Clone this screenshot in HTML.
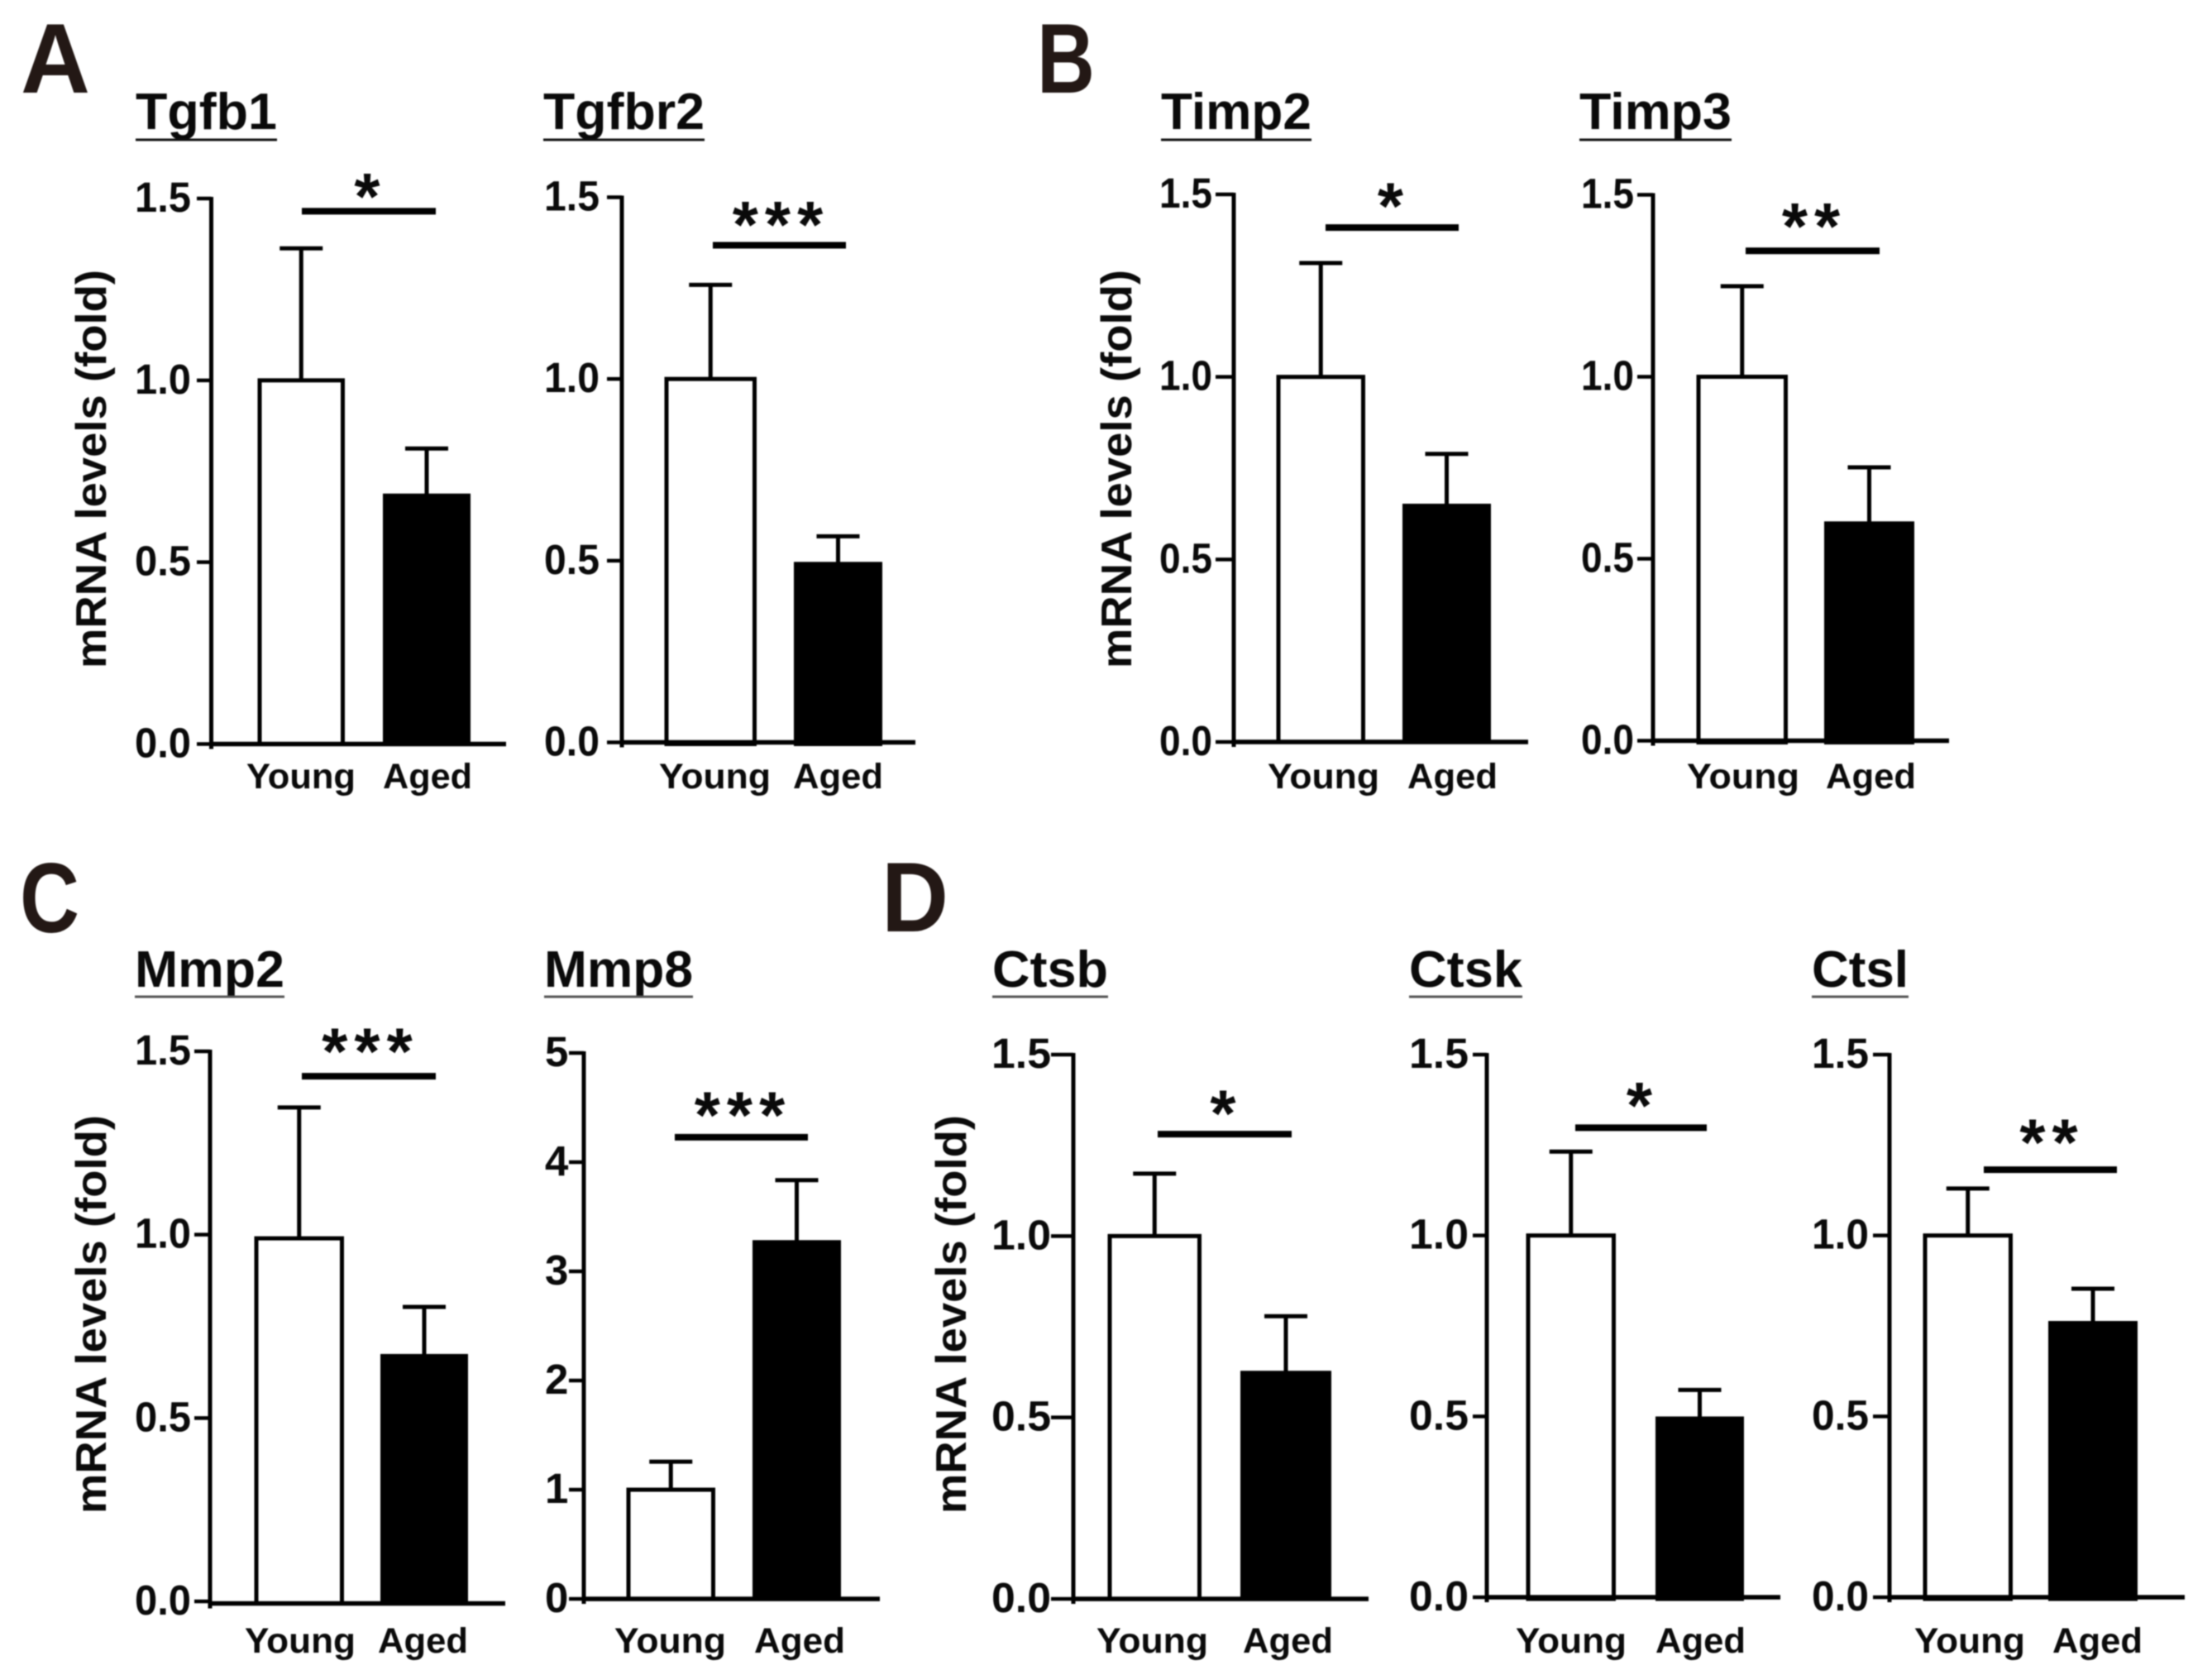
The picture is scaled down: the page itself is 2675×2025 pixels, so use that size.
<!DOCTYPE html>
<html lang="en">
<head>
<meta charset="utf-8">
<title>mRNA levels in young and aged groups</title>
<style>
html,body{margin:0;padding:0;background:#fff;}
body{width:2675px;height:2025px;overflow:hidden;}
#figure{display:block;filter:blur(0.7px);}
text{font-family:"Liberation Sans",Arial,sans-serif;font-weight:bold;fill:#0a0a0a;}
</style>
</head>
<body>
<svg id="figure" xmlns="http://www.w3.org/2000/svg" width="2675" height="2025" viewBox="0 0 2675 2025">
<rect x="0" y="0" width="2675" height="2025" fill="#ffffff"/>
<text x="25" y="112" font-size="120" textLength="84" lengthAdjust="spacingAndGlyphs" style="fill:#231815">A</text>
<text x="1254" y="112" font-size="120" textLength="70" lengthAdjust="spacingAndGlyphs" style="fill:#231815">B</text>
<text x="24" y="1127" font-size="120" textLength="72" lengthAdjust="spacingAndGlyphs" style="fill:#231815">C</text>
<text x="1066" y="1126" font-size="120" textLength="81" lengthAdjust="spacingAndGlyphs" style="fill:#231815">D</text>
</svg>
<script>
const categories = ['Young', 'Aged'];
const geneNames = ['Tgfb1', 'Tgfbr2', 'Timp2', 'Timp3', 'Mmp2', 'Mmp8', 'Ctsb', 'Ctsk', 'Ctsl'];
const youngMeans = [1.0, 1.0, 1.0, 1.0, 0.99, 1.0, 1.0, 1.0, 1.0];
const youngErrorTops = [1.363, 1.259, 1.312, 1.249, 1.347, 1.257, 1.172, 1.232, 1.13];
const agedMeans = [0.683, 0.491, 0.647, 0.597, 0.669, 3.267, 0.623, 0.494, 0.758];
const agedErrorTops = [0.8125, 0.567, 0.789, 0.751, 0.803, 3.835, 0.779, 0.573, 0.853];
const significanceLevels = [1.465, 1.368, 1.409, 1.346, 1.432, 4.228, 1.281, 1.298, 1.182];
const significanceStars = ['*', '***', '*', '**', '***', '***', '*', '*', '**'];
const foldTicks = [0, 0.5, 1.0, 1.5];
const foldTickLabels = ['0.0', '0.5', '1.0', '1.5'];
const mmp8Ticks = [0, 1, 2, 3, 4, 5];
const mmp8TickLabels = ['0', '1', '2', '3', '4', '5'];
const yAxisTitle = 'mRNA levels (fold)';

function panelLayout(i) {
  const L = [
    {axisX:255.5,yTop:240,yZero:899.5,xEnd:612,tickL:238,youngX:[315,415],agedX:[463,569],sigX:[365,527],title:[164,335],titleBase:156,rule:169,ruleColor:'#111',tickLabelX:[163,231],youngText:[298,430],agedText:[463,571],textBase:953,starAbove:30,yTitleX:128,yTitleY:[326,808],drop:0},
    {axisX:752,yTop:238.5,yZero:897.5,xEnd:1107,tickL:734,youngX:[807,913],agedX:[960,1067],sigX:[862,1023],title:[657,852],titleBase:156,rule:169,ruleColor:'#111',tickLabelX:[658,725],youngText:[797,932],agedText:[959,1068],textBase:953,starAbove:37,drop:2},
    {axisX:1492,yTop:235,yZero:897,xEnd:1848,tickL:1470,youngX:[1547,1649],agedX:[1696,1803],sigX:[1603,1764],title:[1404,1586],titleBase:156,rule:169,ruleColor:'#111',tickLabelX:[1402,1466],youngText:[1533,1668],agedText:[1702,1811],textBase:953,starAbove:38,yTitleX:1368,yTitleY:[326,808],drop:0},
    {axisX:1999,yTop:235.5,yZero:895.5,xEnd:2357,tickL:1980,youngX:[2055,2160],agedX:[2206,2315],sigX:[2111,2273],title:[1910,2094],titleBase:156,rule:169,ruleColor:'#111',tickLabelX:[1912,1976],youngText:[2040,2176],agedText:[2208,2317],textBase:953,starAbove:42,drop:2},
    {axisX:254,yTop:1271,yZero:1936,baseY:1938.5,xEnd:611,tickL:235,youngX:[311,414],agedX:[460,566],sigX:[365,527],title:[163,344],titleBase:1193,rule:1205,ruleColor:'#555',tickLabelX:[163,231],youngText:[296,430],agedText:[457,566],textBase:1998,starAbove:42,yTitleX:128,yTitleY:[1348,1830],drop:0},
    {axisX:706,yTop:1273,yZero:1933,xEnd:1064,tickL:688,youngX:[761,863],agedX:[910,1017],sigX:[816,977],title:[658,838],titleBase:1193,rule:1205,ruleColor:'#555',tickLabelX:[659,684],youngText:[743,878],agedText:[912,1022],textBase:1998,starAbove:39,drop:0},
    {axisX:1298,yTop:1275,yZero:1933,xEnd:1655,tickL:1271,youngX:[1343,1451],agedX:[1500,1610],sigX:[1400,1562],title:[1200,1340],titleBase:1193,rule:1205,ruleColor:'#555',tickLabelX:[1199,1271],youngText:[1326,1461],agedText:[1503,1612],textBase:1998,starAbove:37,yTitleX:1168,yTitleY:[1348,1830],drop:0},
    {axisX:1798,yTop:1275,yZero:1931,xEnd:2153,tickL:1781,youngX:[1849,1952],agedX:[2002,2109],sigX:[1905,2064],title:[1704,1841],titleBase:1193,rule:1205,ruleColor:'#555',tickLabelX:[1704,1776],youngText:[1833,1967],agedText:[2002,2111],textBase:1998,starAbove:39,drop:2},
    {axisX:2285,yTop:1275,yZero:1931,xEnd:2642,tickL:2265,youngX:[2329,2432],agedX:[2477,2585],sigX:[2399,2560],title:[2191,2308],titleBase:1193,rule:1205,ruleColor:'#555',tickLabelX:[2191,2260],youngText:[2315,2449],agedText:[2482,2591],textBase:1998,starAbove:45,drop:2}
  ];
  return L[i];
}

const svgNS = 'http://www.w3.org/2000/svg';
const svg = document.getElementById('figure');

function shape(parent, tag, attrs, content) {
  const node = document.createElementNS(svgNS, tag);
  for (const key in attrs) node.setAttribute(key, attrs[key]);
  if (content !== undefined) node.textContent = content;
  parent.appendChild(node);
  return node;
}
function seg(parent, x1, y1, x2, y2, width, color) {
  return shape(parent, 'line', {x1: x1, y1: y1, x2: x2, y2: y2, stroke: color || '#000', 'stroke-width': width});
}
function slug(s) { return s.toLowerCase(); }

geneNames.forEach(function (gene, i) {
  const p = panelLayout(i);
  const isMmp8 = gene === 'Mmp8';
  const ticks = isMmp8 ? mmp8Ticks : foldTicks;
  const tickLabels = isMmp8 ? mmp8TickLabels : foldTickLabels;
  const maxV = ticks[ticks.length - 1];
  const yScale = function (v) { return p.yZero - v * (p.yZero - p.yTop) / maxV; };
  const baseY = p.baseY || p.yZero;

  const g = shape(svg, 'g', {});
  
  

  const title = shape(g, 'text', {x: p.title[0], y: p.titleBase, 'font-size': 62, textLength: p.title[1] - p.title[0], lengthAdjust: 'spacingAndGlyphs'}, gene);
  
  

  const rule = seg(g, p.title[0], p.rule, p.title[1], p.rule, 3, p.ruleColor);
  
  

  if (p.yTitleX) {
    const cy = (p.yTitleY[0] + p.yTitleY[1]) / 2;
    const yt = shape(g, 'text', {x: 0, y: 0, 'font-size': 52, 'text-anchor': 'middle', textLength: p.yTitleY[1] - p.yTitleY[0], lengthAdjust: 'spacingAndGlyphs', transform: 'translate(' + p.yTitleX + ' ' + cy + ') rotate(-90)'}, yAxisTitle);
    
    
  }

  // bars
  const sw = 5;
  const youngL = p.youngX[0] - 3.5;
  const youngR = p.youngX[1] + 2;
  const youngBar = shape(g, 'rect', {x: youngL + sw / 2, y: yScale(youngMeans[i]), width: youngR - youngL - sw, height: baseY + p.drop - yScale(youngMeans[i]), fill: '#fff', stroke: '#000', 'stroke-width': sw});
  
  

  const agedBar = shape(g, 'rect', {x: p.agedX[0], y: yScale(agedMeans[i]) - sw / 2, width: p.agedX[1] - p.agedX[0], height: baseY + p.drop + sw / 2 - yScale(agedMeans[i]) + sw / 2, fill: '#000'});
  
  

  // error bars
  [[[youngL, youngR], youngMeans[i], youngErrorTops[i], 'young'], [p.agedX, agedMeans[i], agedErrorTops[i], 'aged']].forEach(function (e) {
    const cx = (e[0][0] + e[0][1]) / 2;
    const stem = seg(g, cx, yScale(e[1]), cx, yScale(e[2]), 5);
    
    
    const cap = seg(g, cx - 26, yScale(e[2]), cx + 26, yScale(e[2]), 5);
    
    
  });

  // axes
  const yAxis = seg(g, p.axisX, p.yTop - 2, p.axisX, baseY + 6, 5);
  
  
  const xAxis = seg(g, p.axisX - 2, baseY, p.xEnd, baseY, 5.5);
  
  

  ticks.forEach(function (t, k) {
    const tk = seg(g, p.tickL, yScale(t), p.axisX, yScale(t), 4.5);
    
    
    const label = shape(g, 'text', {x: p.tickLabelX[0], y: yScale(t) + 16, 'font-size': 51}, tickLabels[k]);
    if (tickLabels[k].length > 1) {
      label.setAttribute('textLength', p.tickLabelX[1] - p.tickLabelX[0]);
      label.setAttribute('lengthAdjust', 'spacingAndGlyphs');
    }
    
    
  });

  // category labels
  [p.youngText, p.agedText].forEach(function (tx, c) {
    const lab = shape(g, 'text', {x: tx[0], y: p.textBase, 'font-size': 43, textLength: tx[1] - tx[0], lengthAdjust: 'spacingAndGlyphs'}, categories[c]);
    
    
  });

  // significance
  const sigY = yScale(significanceLevels[i]);
  const sig = seg(g, p.sigX[0], sigY, p.sigX[1], sigY, 8);
  
  
  const sigMid = (p.sigX[0] + p.sigX[1]) / 2;
  const stars = shape(g, 'text', {x: sigMid + 2, y: sigY - p.starAbove + 39.5, 'font-size': 80, 'text-anchor': 'middle', 'letter-spacing': 8}, significanceStars[i]);
  
  
});
</script>
</body>
</html>
